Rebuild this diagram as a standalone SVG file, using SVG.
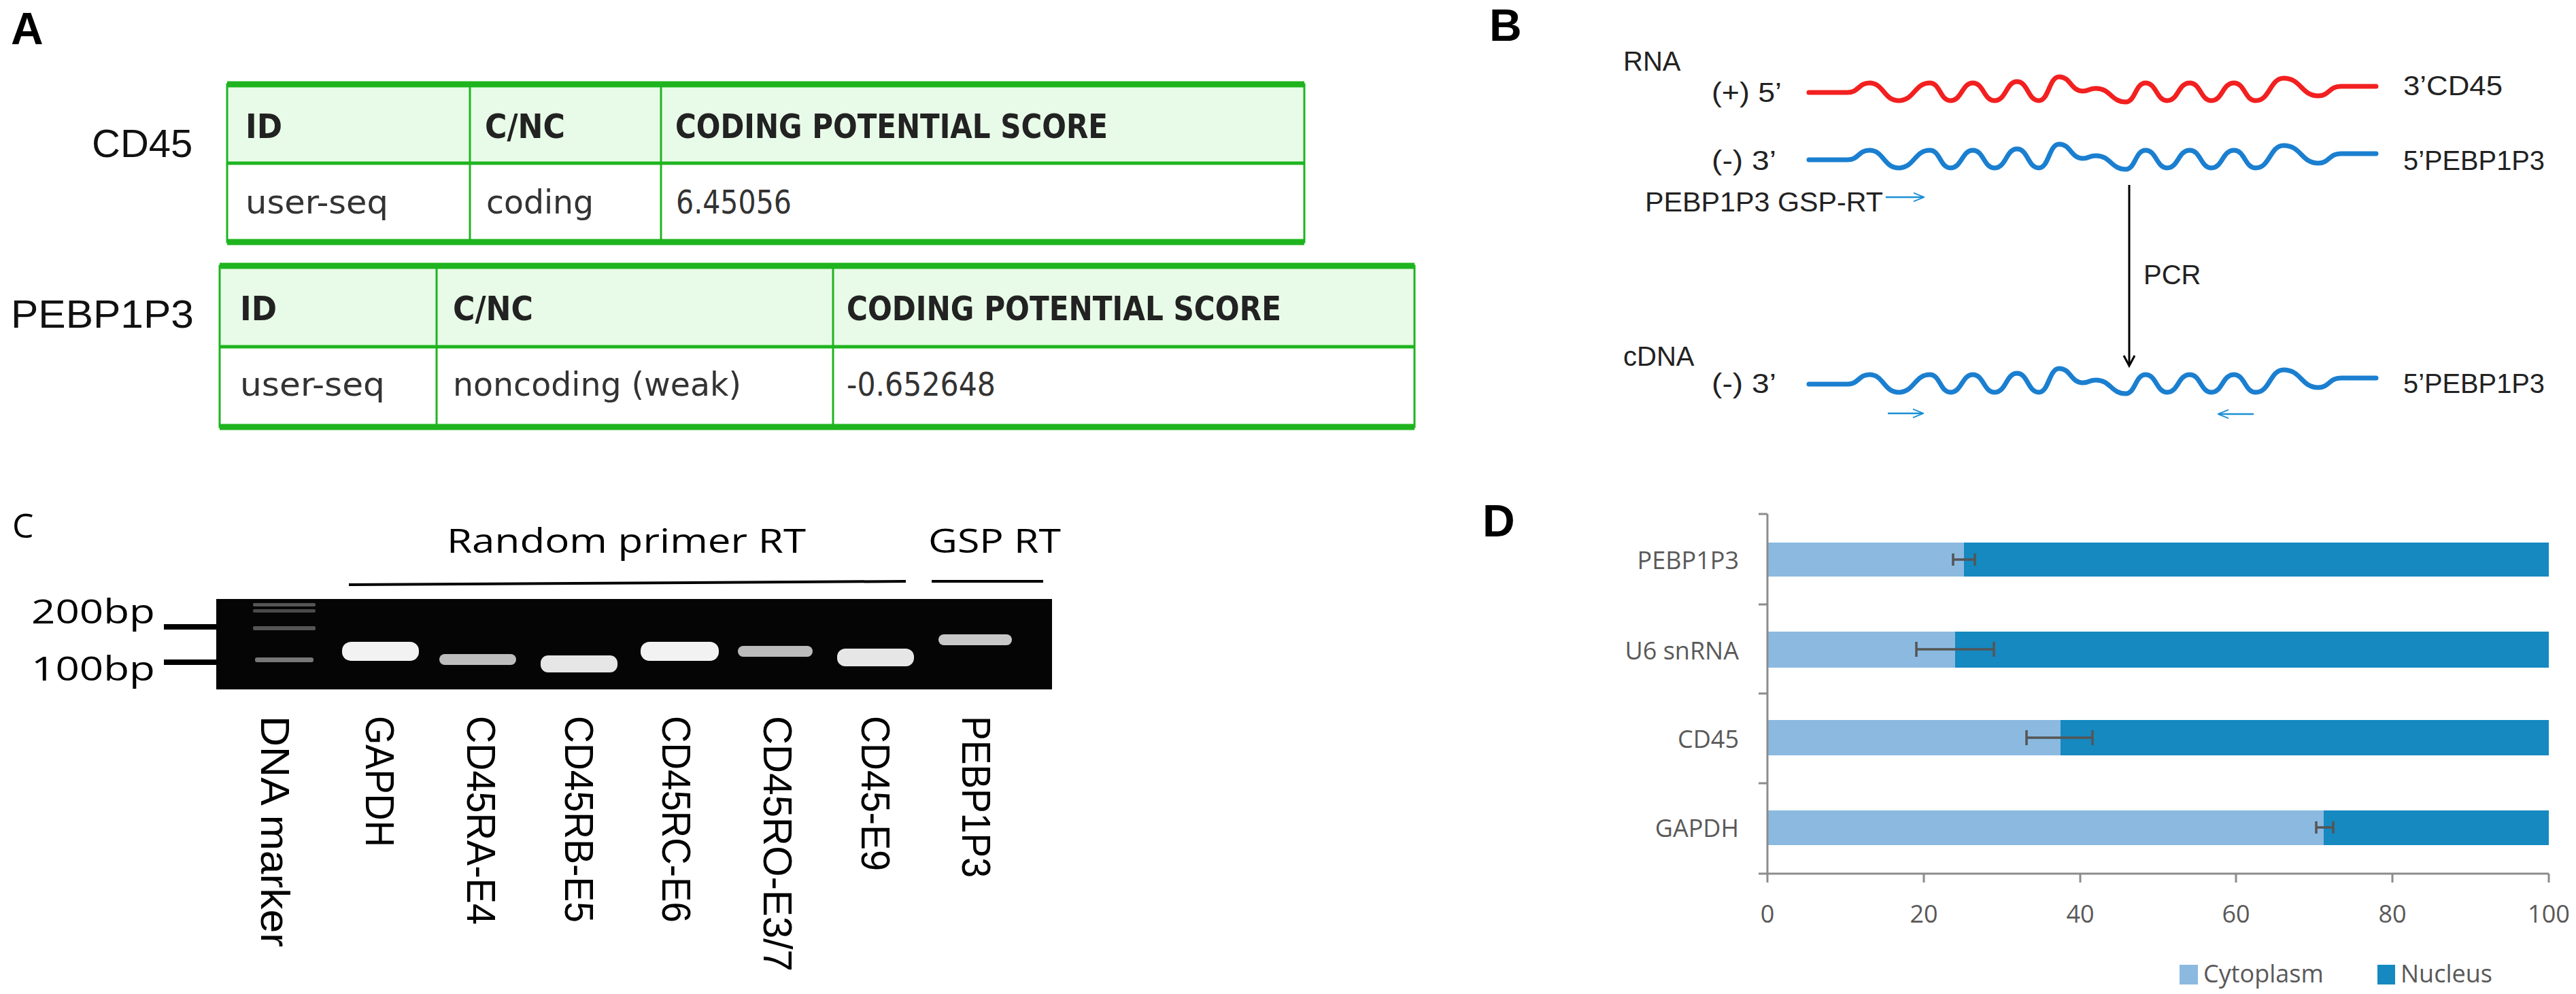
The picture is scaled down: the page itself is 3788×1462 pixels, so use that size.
<svg xmlns="http://www.w3.org/2000/svg" xmlns:xlink="http://www.w3.org/1999/xlink" width="3788" height="1462" viewBox="0 0 3788 1462">
<style>
.lbl{font-family:"Liberation Sans",Arial,sans-serif;font-weight:bold;font-size:66px;fill:#000}
.th{font-family:"DejaVu Sans Condensed","DejaVu Sans",sans-serif;font-weight:bold;font-size:50px;fill:#222}
.td{font-family:"DejaVu Sans Condensed","DejaVu Sans",sans-serif;font-size:48px;fill:#333}
.side{font-family:"Liberation Sans",Arial,sans-serif;font-size:58px;fill:#111}
.b{font-family:"Liberation Sans",Arial,sans-serif;font-size:40px;fill:#222}
.c{font-family:"Open Sans","Liberation Sans",sans-serif;font-size:50px;fill:#000}
.lane{font-family:"Liberation Sans",Arial,sans-serif;font-size:60px;fill:#000}
.d{font-family:"Open Sans","Liberation Sans",sans-serif;font-size:36px;fill:#595959}
.grid{stroke:#1fb41f;fill:none}
.wave{fill:none;stroke-width:7;stroke-linejoin:round;stroke-linecap:round}
</style>
<defs>
<path id="wave" d="M2660,2 L2717,2 C2733,2 2733,-12 2749,-12 C2770,-12 2770,14 2792,14 C2815,14 2815,-12 2838,-12 C2853,-12 2853,14 2868,14 C2885,14 2885,-12 2901,-12 C2917,-12 2917,14 2933,14 C2950,14 2950,-14 2966,-14 C2982,-14 2982,14 2998,14 C3013,14 3013,-21 3028,-21 C3045,-21 3045,0 3063,0 C3072,0 3072,-4 3082,-4 C3104,-4 3104,16 3126,16 C3140,16 3140,-12 3155,-12 C3171,-12 3171,14 3187,14 C3203,14 3203,-12 3220,-12 C3236,-12 3236,14 3252,14 C3268,14 3268,-12 3285,-12 C3301,-12 3301,14 3317,14 C3338,14 3338,-19 3358,-19 C3384,-19 3384,7 3409,7 C3425,7 3425,-7 3442,-7 L3494,-7"/>
<marker id="ah" viewBox="0 0 10 10" refX="9" refY="5" markerWidth="8" markerHeight="8" orient="auto" markerUnits="userSpaceOnUse"><path d="M0,0 L10,5 L0,10" fill="none" stroke="#000" stroke-width="1.5"/></marker>
<marker id="bh" viewBox="0 0 10 10" refX="9" refY="5" markerWidth="16" markerHeight="16" orient="auto" markerUnits="userSpaceOnUse"><path d="M0,1 L10,5 L0,9" fill="none" stroke="#1b8fd6" stroke-width="1.2"/></marker>
</defs>

<!-- Panel A -->
<g id="panelA">
<text class="lbl" x="16" y="65" font-weight="normal">A</text>
<text class="side" x="135" y="231">CD45</text>
<g id="table1">
<rect x="334" y="124" width="1584" height="116" fill="#e8fbe8"/>
<rect x="334" y="124" width="1584" height="232" class="grid" stroke-width="3"/>
<line x1="334" y1="124" x2="1918" y2="124" class="grid" stroke-width="9"/>
<line x1="334" y1="356" x2="1918" y2="356" class="grid" stroke-width="9"/>
<line x1="334" y1="240" x2="1918" y2="240" class="grid" stroke-width="5"/>
<line x1="691" y1="128" x2="691" y2="352" class="grid" stroke-width="3"/>
<line x1="972" y1="128" x2="972" y2="352" class="grid" stroke-width="3"/>
<text class="th" x="361" y="203">ID</text>
<text class="th" x="713" y="203" textLength="118" lengthAdjust="spacingAndGlyphs">C/NC</text>
<text class="th" x="993" y="203" textLength="636" lengthAdjust="spacingAndGlyphs">CODING POTENTIAL SCORE</text>
<text class="td" x="361" y="314" textLength="210" lengthAdjust="spacingAndGlyphs">user-seq</text>
<text class="td" x="715" y="314" textLength="158" lengthAdjust="spacingAndGlyphs">coding</text>
<text class="td" x="994" y="314" textLength="170" lengthAdjust="spacingAndGlyphs">6.45056</text>
</g>
<text class="side" x="16" y="482" textLength="269" lengthAdjust="spacingAndGlyphs">PEBP1P3</text>
<g id="table2">
<rect x="323" y="391" width="1757" height="119" fill="#e8fbe8"/>
<rect x="323" y="391" width="1757" height="237" class="grid" stroke-width="3"/>
<line x1="323" y1="391" x2="2080" y2="391" class="grid" stroke-width="9"/>
<line x1="323" y1="628" x2="2080" y2="628" class="grid" stroke-width="9"/>
<line x1="323" y1="510" x2="2080" y2="510" class="grid" stroke-width="5"/>
<line x1="642" y1="395" x2="642" y2="624" class="grid" stroke-width="3"/>
<line x1="1225" y1="395" x2="1225" y2="624" class="grid" stroke-width="3"/>
<text class="th" x="353" y="471">ID</text>
<text class="th" x="666" y="471" textLength="118" lengthAdjust="spacingAndGlyphs">C/NC</text>
<text class="th" x="1245" y="471" textLength="639" lengthAdjust="spacingAndGlyphs">CODING POTENTIAL SCORE</text>
<text class="td" x="353" y="582" textLength="213" lengthAdjust="spacingAndGlyphs">user-seq</text>
<text class="td" x="666" y="582" textLength="424" lengthAdjust="spacingAndGlyphs">noncoding (weak)</text>
<text class="td" x="1245" y="582" textLength="219" lengthAdjust="spacingAndGlyphs">-0.652648</text>
</g>
</g>

<!-- Panel B -->
<g id="panelB">
<text class="lbl" x="2190" y="60">B</text>
<text class="b" x="2387" y="104">RNA</text>
<text class="b" x="2517" y="150" textLength="103" lengthAdjust="spacingAndGlyphs">(+) 5’</text>
<use xlink:href="#wave" class="wave" stroke="#f22020" transform="translate(0,134)"/>
<text class="b" x="3534" y="140" textLength="146" lengthAdjust="spacingAndGlyphs">3’CD45</text>
<text class="b" x="2517" y="250" textLength="95" lengthAdjust="spacingAndGlyphs">(-) 3’</text>
<use xlink:href="#wave" class="wave" stroke="#1b7fd0" transform="translate(0,233)"/>
<text class="b" x="3534" y="250" textLength="208" lengthAdjust="spacingAndGlyphs">5’PEBP1P3</text>
<text class="b" x="2419" y="311" font-size="36" textLength="350" lengthAdjust="spacingAndGlyphs">PEBP1P3 GSP-RT</text>
<line x1="2773" y1="290" x2="2828" y2="290" stroke="#1b8fd6" stroke-width="2.5" marker-end="url(#bh)"/>
<g id="pcr-arrow">
<line x1="3131" y1="272" x2="3131" y2="537" stroke="#000" stroke-width="3"/>
<path d="M3123,523 L3131,538 L3139,523" fill="none" stroke="#000" stroke-width="3"/>
</g>
<text class="b" x="3152" y="418">PCR</text>
<text class="b" x="2387" y="538">cDNA</text>
<text class="b" x="2517" y="578" textLength="95" lengthAdjust="spacingAndGlyphs">(-) 3’</text>
<use xlink:href="#wave" class="wave" stroke="#1b7fd0" transform="translate(0,563)"/>
<text class="b" x="3534" y="578" textLength="208" lengthAdjust="spacingAndGlyphs">5’PEBP1P3</text>
<line x1="2776" y1="608" x2="2827" y2="608" stroke="#1b8fd6" stroke-width="2.5" marker-end="url(#bh)"/>
<line x1="3314" y1="609" x2="3263" y2="609" stroke="#1b8fd6" stroke-width="2.5" marker-end="url(#bh)"/>
</g>

<!-- Panel C -->
<g id="panelC">
<text class="c" x="18" y="791" font-size="72">C</text>
<text class="c" x="657" y="813" textLength="528" lengthAdjust="spacingAndGlyphs">Random primer RT</text>
<text class="c" x="1365" y="813" textLength="195" lengthAdjust="spacingAndGlyphs">GSP RT</text>
<line x1="513" y1="860" x2="1332" y2="855" stroke="#000" stroke-width="4"/>
<line x1="1370" y1="855" x2="1534" y2="855" stroke="#000" stroke-width="4"/>
<text class="c" x="46" y="917" textLength="182" lengthAdjust="spacingAndGlyphs">200bp</text>
<text class="c" x="46" y="1001" textLength="182" lengthAdjust="spacingAndGlyphs">100bp</text>
<line x1="241" y1="922" x2="320" y2="922" stroke="#000" stroke-width="8"/>
<line x1="241" y1="974" x2="320" y2="974" stroke="#000" stroke-width="8"/>
<rect x="318" y="881" width="1229" height="133" fill="#050505"/>
<g id="bands">
<rect x="372" y="887" width="92" height="5" rx="2" fill="#555"/>
<rect x="372" y="896" width="92" height="5" rx="2" fill="#4a4a4a"/>
<rect x="372" y="921" width="92" height="6" rx="2" fill="#555"/>
<rect x="375" y="967" width="86" height="7" rx="3" fill="#777"/>
<rect x="503" y="944" width="113" height="28" rx="13" fill="#f2f2f2"/>
<rect x="646" y="962" width="113" height="16" rx="8" fill="#bdbdbd"/>
<rect x="795" y="964" width="113" height="25" rx="11" fill="#e6e6e6"/>
<rect x="942" y="944" width="115" height="28" rx="13" fill="#f2f2f2"/>
<rect x="1085" y="950" width="110" height="16" rx="8" fill="#bbb"/>
<rect x="1231" y="954" width="113" height="26" rx="12" fill="#e6e6e6"/>
<rect x="1380" y="933" width="108" height="16" rx="8" fill="#c8c8c8"/>
</g>
<g id="lanes">
<text class="lane" transform="translate(384,1053) rotate(90)" textLength="340" lengthAdjust="spacingAndGlyphs">DNA marker</text>
<text class="lane" transform="translate(538,1053) rotate(90)" textLength="193" lengthAdjust="spacingAndGlyphs">GAPDH</text>
<text class="lane" transform="translate(687,1053) rotate(90)" textLength="307" lengthAdjust="spacingAndGlyphs">CD45RA-E4</text>
<text class="lane" transform="translate(831,1053) rotate(90)" textLength="304" lengthAdjust="spacingAndGlyphs">CD45RB-E5</text>
<text class="lane" transform="translate(974,1053) rotate(90)" textLength="304" lengthAdjust="spacingAndGlyphs">CD45RC-E6</text>
<text class="lane" transform="translate(1123,1053) rotate(90)" textLength="376" lengthAdjust="spacingAndGlyphs">CD45RO-E3/7</text>
<text class="lane" transform="translate(1267,1053) rotate(90)" textLength="228" lengthAdjust="spacingAndGlyphs">CD45-E9</text>
<text class="lane" transform="translate(1415,1053) rotate(90)" textLength="238" lengthAdjust="spacingAndGlyphs">PEBP1P3</text>
</g>
</g>

<!-- Panel D -->
<g id="panelD">
<text class="lbl" x="2180" y="789">D</text>
<g id="bars">
<rect x="2599" y="798" width="289" height="50" fill="#8bb9e0"/><rect x="2888" y="798" width="860" height="50" fill="#1589c0"/>
<rect x="2599" y="929" width="276" height="53" fill="#8bb9e0"/><rect x="2875" y="929" width="873" height="53" fill="#1589c0"/>
<rect x="2599" y="1059" width="431" height="52" fill="#8bb9e0"/><rect x="3030" y="1059" width="718" height="52" fill="#1589c0"/>
<rect x="2599" y="1192" width="818" height="51" fill="#8bb9e0"/><rect x="3417" y="1192" width="331" height="51" fill="#1589c0"/>
</g>
<g id="errbars" stroke="#555" stroke-width="3.5" fill="none">
<path d="M2872,823 H2904 M2872,814 V832 M2904,814 V832"/>
<path d="M2818,955 H2932 M2818,944 V966 M2932,944 V966"/>
<path d="M2980,1085 H3077 M2980,1074 V1096 M3077,1074 V1096"/>
<path d="M3406,1217 H3431 M3406,1208 V1226 M3431,1208 V1226"/>
</g>
<g id="axes" stroke="#8c8c8c" stroke-width="3" fill="none">
<path d="M2599,756 V1285 H3748"/>
<path d="M2586,756 H2599 M2586,889 H2599 M2586,1020 H2599 M2586,1152 H2599 M2586,1285 H2599"/>
<path d="M2599,1285 V1298 M2829,1285 V1298 M3059,1285 V1298 M3288,1285 V1298 M3518,1285 V1298 M3748,1285 V1298"/>
</g>
<g text-anchor="end">
<text class="d" x="2557" y="837">PEBP1P3</text>
<text class="d" x="2557" y="970">U6 snRNA</text>
<text class="d" x="2557" y="1100">CD45</text>
<text class="d" x="2557" y="1231">GAPDH</text>
</g>
<g text-anchor="middle">
<text class="d" x="2599" y="1357">0</text>
<text class="d" x="2829" y="1357">20</text>
<text class="d" x="3059" y="1357">40</text>
<text class="d" x="3288" y="1357">60</text>
<text class="d" x="3518" y="1357">80</text>
<text class="d" x="3748" y="1357">100</text>
</g>
<g id="legend">
<rect x="3205" y="1419" width="27" height="29" fill="#8bb9e0"/>
<text class="d" x="3240" y="1445">Cytoplasm</text>
<rect x="3496" y="1419" width="26" height="29" fill="#1589c0"/>
<text class="d" x="3530" y="1445">Nucleus</text>
</g>
</g>
</svg>
